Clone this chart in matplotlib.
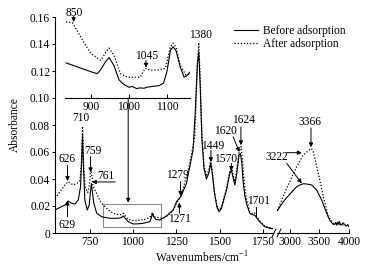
import matplotlib
matplotlib.use("Agg")
import matplotlib.pyplot as plt
from matplotlib.lines import Line2D
from matplotlib.patches import Rectangle

plt.rcParams['font.family'] = ['Liberation Serif', 'DejaVu Serif']
plt.rcParams['mathtext.fontset'] = 'custom'
plt.rcParams['mathtext.rm'] = 'Liberation Serif'
plt.rcParams['font.size'] = 8.3

# ---------------- data ----------------
before_left_x = [551, 580, 608, 627, 647, 666, 685, 698, 705, 710, 715, 723, 737, 748, 755, 761, 767, 775,
                 791, 820, 868, 915, 935, 944, 955, 973, 1002, 1030, 1059, 1098, 1106, 1113, 1120, 1132,
                 1155, 1194, 1232, 1252, 1276, 1309, 1328, 1347, 1360, 1372, 1380, 1388, 1398, 1410, 1424,
                 1437, 1449, 1458, 1470, 1485, 1497, 1510, 1525, 1540, 1559, 1568, 1578, 1588, 1600, 1612,
                 1620, 1628, 1635, 1645, 1655, 1674, 1690, 1703, 1715, 1731, 1760, 1789, 1805]
before_left_y = [0.017, 0.019, 0.0207, 0.0237, 0.022, 0.0215, 0.0244, 0.034, 0.055, 0.0726, 0.05, 0.0244,
                 0.017, 0.0207, 0.030, 0.0365, 0.030, 0.022, 0.0148, 0.012, 0.0109, 0.0109, 0.0115, 0.0126,
                 0.011, 0.0084, 0.0067, 0.0068, 0.0072, 0.0084, 0.011, 0.0146, 0.012, 0.0101, 0.0096, 0.0126,
                 0.017, 0.0232, 0.0269, 0.0368, 0.049, 0.0615, 0.09, 0.125, 0.134, 0.11, 0.07, 0.048, 0.040,
                 0.044, 0.0516, 0.044, 0.030, 0.019, 0.0158, 0.018, 0.025, 0.0319, 0.0442, 0.0467, 0.041,
                 0.0356, 0.045, 0.0578, 0.059, 0.052, 0.039, 0.028, 0.022, 0.0146, 0.0135, 0.0133, 0.011,
                 0.0084, 0.0047, 0.0035, 0.0033]

after_left_x = [551, 580, 608, 627, 656, 680, 695, 703, 710, 716, 725, 740, 750, 757, 762, 770, 791, 810,
                829, 860, 887, 925, 944, 960, 973, 1002, 1030, 1045, 1059, 1098, 1113, 1125, 1136, 1175,
                1200, 1232, 1255, 1280, 1305, 1328, 1357, 1370, 1380, 1388, 1398, 1410, 1424, 1437, 1449,
                1458, 1470, 1485, 1497, 1510, 1525, 1540, 1559, 1570, 1578, 1588, 1600, 1612, 1624, 1632,
                1640, 1655, 1674, 1690, 1701, 1715, 1731, 1760, 1789, 1805]
after_left_y = [0.0257, 0.0306, 0.0356, 0.038, 0.0356, 0.037, 0.039, 0.05, 0.079, 0.05, 0.034, 0.030,
                0.036, 0.048, 0.044, 0.035, 0.0294, 0.024, 0.0207, 0.017, 0.0146, 0.0133, 0.0146, 0.012,
                0.0101, 0.0091, 0.0091, 0.010, 0.0096, 0.0116, 0.015, 0.012, 0.0116, 0.0109, 0.013, 0.0165,
                0.023, 0.028, 0.040, 0.0516, 0.071, 0.12, 0.141, 0.115, 0.072, 0.05, 0.042, 0.046, 0.054,
                0.046, 0.031, 0.020, 0.017, 0.019, 0.026, 0.033, 0.046, 0.049, 0.043, 0.038, 0.048, 0.060,
                0.064, 0.054, 0.040, 0.025, 0.016, 0.0145, 0.015, 0.012, 0.009, 0.005, 0.004, 0.0038]

before_right_x = [2785, 2886, 3000, 3113, 3169, 3230, 3282, 3367, 3452, 3537, 3622, 3678, 3720, 3740,
                  3763, 3775, 3790, 3805, 3820, 3835, 3847, 3860, 3880, 3900, 3920, 3940, 3960, 3980, 4000]
before_right_y = [0.0165, 0.0232, 0.0289, 0.0343, 0.0356, 0.0365, 0.0363, 0.0356, 0.0319, 0.0244, 0.0146,
                  0.0091, 0.007, 0.0062, 0.0067, 0.0078, 0.0058, 0.0079, 0.0064, 0.0086, 0.0072, 0.0058,
                  0.0066, 0.0075, 0.0065, 0.0058, 0.0052, 0.0062, 0.005]

after_right_x = [2785, 2944, 3113, 3226, 3300, 3339, 3366, 3395, 3440, 3480, 3565, 3650, 3735, 3800,
                 3900, 4000]
after_right_y = [0.0167, 0.0331, 0.0491, 0.0578, 0.0605, 0.062, 0.0625, 0.0602, 0.052, 0.0442, 0.0269,
                 0.0121, 0.0072, 0.0068, 0.006, 0.005]

inset_before_x = [835, 865, 900, 917, 926, 939, 948, 961, 974, 987, 1000, 1010, 1020, 1030, 1040, 1048,
                  1060, 1074, 1080, 1091, 1100, 1109, 1116, 1124, 1135, 1145, 1152, 1160]
inset_before_y = [0.126, 0.123, 0.1195, 0.118, 0.121, 0.127, 0.130, 0.124, 0.1135, 0.110, 0.108, 0.1085,
                  0.107, 0.1075, 0.1072, 0.108, 0.1085, 0.109, 0.1092, 0.111, 0.1195, 0.135, 0.138, 0.135,
                  0.123, 0.1155, 0.1165, 0.119]
inset_after_x = [835, 852, 874, 900, 926, 940, 948, 961, 978, 996, 1030, 1043, 1056, 1074, 1096, 1109,
                 1116, 1124, 1135, 1150, 1160]
inset_after_y = [0.1564, 0.1557, 0.145, 0.133, 0.128, 0.134, 0.137, 0.1316, 0.118, 0.1154, 0.1154, 0.122,
                 0.1207, 0.1207, 0.122, 0.1376, 0.1407, 0.1376, 0.124, 0.117, 0.118]

y_ticks = [0, 0.02, 0.04, 0.06, 0.08, 0.10, 0.12, 0.14, 0.16]
y_tick_labels = ['0', '0.02', '0.04', '0.06', '0.08', '0.10', '0.12', '0.14', '0.16']
left_x_ticks = [750, 1000, 1250, 1500, 1750]
right_x_ticks = [3000, 3500, 4000]
inset_x_ticks = [900, 1000, 1100]

# ---------------- figure ----------------
W, H = 385, 270
fig = plt.figure(figsize=(W / 100, H / 100), dpi=100)

def fx(px):
    return px / W

def fy(py):
    return (H - py) / H

axL = fig.add_axes([fx(55), fy(233), fx(273) - fx(55), fy(17) - fy(233)])
axR = fig.add_axes([fx(277), fy(233), fx(349) - fx(277), fy(17) - fy(233)])

lw_s = 0.8
lw_d = 0.9
axL.plot(before_left_x, before_left_y, color='k', lw=lw_s, ls='-')
axL.plot(after_left_x, after_left_y, color='k', lw=lw_d, ls=(0, (1, 1.5)))
axR.plot(before_right_x, before_right_y, color='k', lw=lw_s, ls='-')
axR.plot(after_right_x, after_right_y, color='k', lw=lw_d, ls=(0, (1, 1.5)))

for ax in (axL, axR):
    ax.set_ylim(0, 0.16)
    ax.spines['top'].set_visible(False)
    ax.spines['right'].set_visible(False)
    ax.tick_params(axis='x', direction='in', length=3, width=0.7, pad=2)
    ax.spines['bottom'].set_linewidth(0.8)

axL.set_xlim(551, 1808)
axL.set_xticks(left_x_ticks)
axL.set_yticks(y_ticks)
axL.set_yticklabels(y_tick_labels)
axL.tick_params(axis='y', direction='out', length=2.5, width=0.7, pad=1)
axL.spines['left'].set_linewidth(0.8)

axR.set_xlim(2780, 4000)
axR.set_xticks(right_x_ticks)
axR.spines['left'].set_visible(False)
axR.set_yticks([])

# break marks
for x0 in (272, 277):
    fig.add_artist(Line2D([fx(x0), fx(x0 + 4)], [fy(237), fy(229)], color='k', lw=0.7))

# rectangle and connector
axL.add_patch(Rectangle((829, 0.0047), 1165 - 829, 0.0215 - 0.0047, fill=False,
                        edgecolor='#8a8a8a', lw=0.8))
axL.annotate('', xy=(973, 0.0225), xytext=(973, 0.10),
             arrowprops=dict(arrowstyle='-|>', color='k', lw=0.7, mutation_scale=6,
                             shrinkA=0, shrinkB=0))

# inset
axI = axL.inset_axes([608, 0.10, 1328 - 608, 0.06], transform=axL.transData)
axI.patch.set_alpha(0)
axI.plot(inset_before_x, inset_before_y, color='k', lw=lw_s, ls='-')
axI.plot(inset_after_x, inset_after_y, color='k', lw=lw_d, ls=(0, (1, 1.5)))
axI.set_xlim(832, 1160)
axI.set_ylim(0.10, 0.16)
for s in ('top', 'right', 'left'):
    axI.spines[s].set_visible(False)
axI.spines['bottom'].set_linewidth(0.8)
axI.set_yticks([])
axI.set_xticks(inset_x_ticks)
axI.tick_params(axis='x', direction='in', length=3, width=0.7, pad=2)

arw = dict(arrowstyle='-|>', color='k', lw=0.7, mutation_scale=6, shrinkA=0, shrinkB=0)

def ann(ax, txt, tx, ty, ax0, ay0, ax1, ay1):
    ax.text(tx, ty, txt, ha='center', va='center')
    ax.annotate('', xy=(ax1, ay1), xytext=(ax0, ay0), arrowprops=arw, annotation_clip=False)

# inset labels
ann(axI, '850', 856, 0.1629, 855, 0.1605, 855, 0.1562)
ann(axI, '1045', 1046, 0.1312, 1045, 0.128, 1045, 0.1225)

# left labels
ann(axL, '626', 623, 0.0548, 623, 0.050, 623, 0.0385)
ann(axL, '629', 623, 0.0059, 623, 0.012, 623, 0.0240)
axL.text(700, 0.0855, '710', ha='center', va='center')
ann(axL, '759', 767, 0.0605, 756, 0.0565, 756, 0.0450)
axL.text(845, 0.0425, '761', ha='center', va='center')
axL.annotate('', xy=(764, 0.0378), xytext=(898, 0.0378), arrowprops=arw)
ann(axL, '1279', 1256, 0.0427, 1275, 0.038, 1275, 0.0275)
ann(axL, '1271', 1271, 0.0100, 1268, 0.0146, 1268, 0.0225)
axL.text(1390, 0.1467, '1380', ha='center', va='center')
ann(axL, '1449', 1458, 0.0644, 1450, 0.0612, 1450, 0.0525)
ann(axL, '1570', 1535, 0.0548, 1568, 0.0516, 1568, 0.0460)
ann(axL, '1620', 1535, 0.0752, 1578, 0.0713, 1614, 0.0600)
ann(axL, '1624', 1636, 0.0837, 1623, 0.0785, 1623, 0.0650)
axL.text(1726, 0.0240, '1701', ha='center', va='center')
axL.plot([1708, 1708], [0.0195, 0.012], color='k', lw=0.7)

# right labels
ann(axR, '3366', 3339, 0.0822, 3356, 0.0778, 3356, 0.0635)
axR.text(2770, 0.0560, '3222', ha='center', va='center', clip_on=False)
axR.annotate('', xy=(3199, 0.0595), xytext=(2944, 0.0595), arrowprops=arw, annotation_clip=False)
axR.annotate('', xy=(3199, 0.0368), xytext=(2944, 0.0516), arrowprops=arw, annotation_clip=False)

# legend
handles = [Line2D([], [], color='k', lw=lw_s, ls='-'),
           Line2D([], [], color='k', lw=lw_d, ls=(0, (1, 1.5)))]
fig.legend(handles, ['Before adsorption', 'After adsorption'], loc='upper left',
           bbox_to_anchor=(fx(234), fy(25)), frameon=False, handlelength=2.1,
           handletextpad=0.4, labelspacing=0.05, borderpad=0, borderaxespad=0)

# axis labels
fig.text(fx(15), fy(125), 'Absorbance', rotation=90, ha='center', va='center')
fig.text(fx(202), fy(258), 'Wavenumbers/cm$^{-1}$', ha='center', va='center')

fig.savefig('out.png', dpi=100)
